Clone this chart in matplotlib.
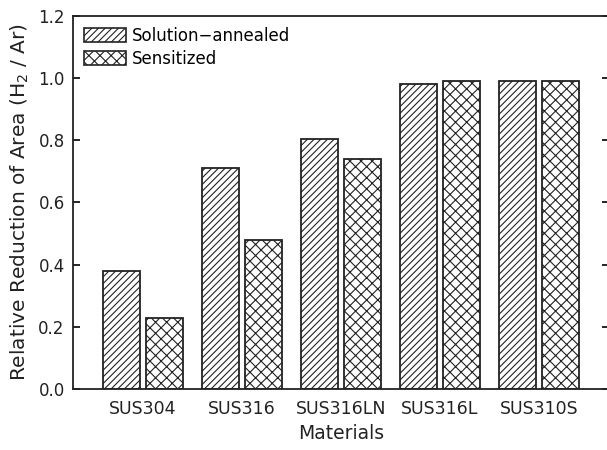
import matplotlib
matplotlib.use("Agg")
import matplotlib.pyplot as plt
import numpy as np
from matplotlib.patches import Patch

plt.rcParams['font.family'] = ['DejaVu Sans']
plt.rcParams['hatch.linewidth'] = 0.8

materials = ["SUS304", "SUS316", "SUS316LN", "SUS316L", "SUS310S"]
solution_annealed = [0.38, 0.71, 0.805, 0.98, 0.99]
sensitized = [0.23, 0.48, 0.74, 0.99, 0.99]
series_names = ["Solution\u2212annealed", "Sensitized"]
yticks = [0.0, 0.2, 0.4, 0.6, 0.8, 1.0, 1.2]

ink = '#222222'
fig = plt.figure(figsize=(6.07, 4.5), dpi=100)
ax = fig.add_axes([73/607, 1-389/450, (609-73)/607, (389-16)/450])

x = np.arange(len(materials))
off, w = 0.217, 0.374
ax.bar(x - off, solution_annealed, w, facecolor='white', edgecolor=ink,
       linewidth=1.3, hatch='/////')
ax.bar(x + off, sensitized, w, facecolor='white', edgecolor=ink,
       linewidth=1.3, hatch='xxx')

ax.set_xlim(-0.707, 4.707)
ax.set_ylim(0, 1.2)
ax.set_xticks(x)
ax.set_xticklabels(materials, fontsize=12.5, color=ink)
ax.tick_params(axis='x', length=0, pad=8)
ax.set_yticks(yticks)
ax.set_yticklabels([f"{t:.1f}" for t in yticks], fontsize=12, color=ink)
ax.tick_params(axis='y', direction='in', length=5, width=1.2, right=True, pad=6)
for s in ax.spines.values():
    s.set_linewidth(1.3)
    s.set_color(ink)

ax.set_xlabel("Materials", fontsize=13.5, labelpad=4, color=ink)
ax.set_ylabel("Relative Reduction of Area (H$_2$ / Ar)", fontsize=14.5,
              labelpad=5, color=ink)

handles = [Patch(facecolor='white', edgecolor=ink, hatch='/////', linewidth=1.2),
           Patch(facecolor='white', edgecolor=ink, hatch='xxx', linewidth=1.2)]
ax.legend(handles, series_names, loc='upper left', frameon=False, fontsize=12,
          handlelength=2.5, handleheight=0.95, handletextpad=0.4,
          borderaxespad=0.25, labelspacing=0.3)

fig.savefig("out.png", dpi=100)
